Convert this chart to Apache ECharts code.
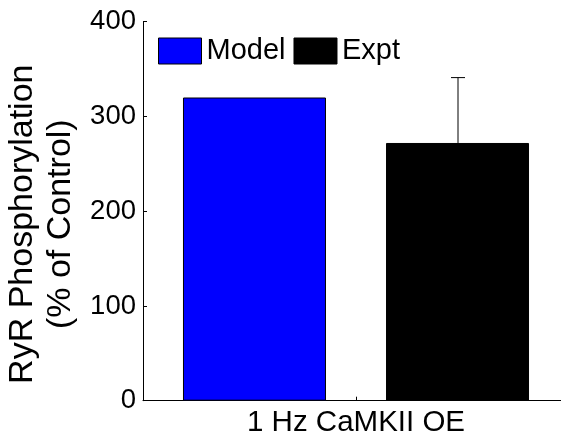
<!DOCTYPE html>
<html><head><meta charset="utf-8">
<script src="https://cdn.jsdelivr.net/npm/echarts@6/dist/echarts.min.js"></script>
<style>html,body{margin:0;padding:0;background:#fff}#c{width:561px;height:438px}</style>
</head><body><div id="c"></div>
<script>
const categories = ['1 Hz CaMKII OE'];
const modelValues = [320];
const exptValues = [272];
const exptErrorHigh = [341];
const yTicks = [0, 100, 200, 300, 400];

const FONT = '"Liberation Sans", Arial, Helvetica, sans-serif';
const chart = echarts.init(document.getElementById('c'), null, {renderer: 'canvas'});
chart.setOption({
  animation: false,
  backgroundColor: '#fff',
  grid: {left: 143, top: 21.7, bottom: 37.3, right: -8, containLabel: false, outerBoundsMode: 'none'},
  legend: {
    left: 158, top: 36.5, padding: 0,
    itemWidth: 43, itemHeight: 26, itemGap: 8,
    icon: 'rect',
    textStyle: {fontFamily: FONT, fontSize: 29, color: '#000'},
    data: [
      {name: 'Model', itemStyle: {color: '#0000ff', borderColor: '#000', borderWidth: 1}},
      {name: 'Expt', itemStyle: {color: '#000', borderColor: '#000', borderWidth: 1}}
    ]
  },
  xAxis: {
    type: 'category', data: categories,
    axisLine: {lineStyle: {color: '#000', width: 1}},
    axisTick: {show: true, inside: true, length: 4, alignWithLabel: true, lineStyle: {color: '#000'}},
    axisLabel: {fontFamily: FONT, fontSize: 29.5, color: '#000', margin: 7},
    splitLine: {show: false}
  },
  yAxis: {
    type: 'value', min: yTicks[0], max: yTicks[yTicks.length - 1], interval: 100,
    axisLine: {show: true, lineStyle: {color: '#000', width: 1}},
    axisTick: {show: true, inside: true, length: 4, lineStyle: {color: '#000'}},
    axisLabel: {fontFamily: FONT, fontSize: 27.5, color: '#000', margin: 7},
    splitLine: {show: false},
    name: 'RyR Phosphorylation\n(% of Control)',
    nameLocation: 'middle', nameRotate: 90, nameGap: 57,
    nameTextStyle: {fontFamily: FONT, fontSize: 34, color: '#000', lineHeight: 38, padding: [0, 0, 0, -26]}
  },
  series: [
    {name: 'Model', type: 'bar', data: modelValues, barWidth: 143, barGap: '42%',
     itemStyle: {color: '#0000ff', borderColor: '#000', borderWidth: 1}},
    {name: 'Expt', type: 'bar', data: exptValues, barWidth: 143,
     itemStyle: {color: '#000', borderColor: '#000', borderWidth: 1}},
    {name: 'ExptErr', type: 'custom', data: categories.map((c, i) => [i, exptValues[i], exptErrorHigh[i]]),
     renderItem: function (params, api) {
       const i = api.value(0);
       const base = api.coord([i, api.value(1)]);
       const top = api.coord([i, api.value(2)]);
       const x = base[0] + (143 + 60) / 2 + 0.5;
       const half = 7;
       const style = {stroke: '#000', lineWidth: 1};
       return {type: 'group', children: [
         {type: 'line', shape: {x1: x, y1: base[1], x2: x, y2: top[1]}, style: style},
         {type: 'line', shape: {x1: x - half, y1: top[1], x2: x + half, y2: top[1]}, style: style}
       ]};
     }, z: 5}
  ]
});
</script></body></html>
